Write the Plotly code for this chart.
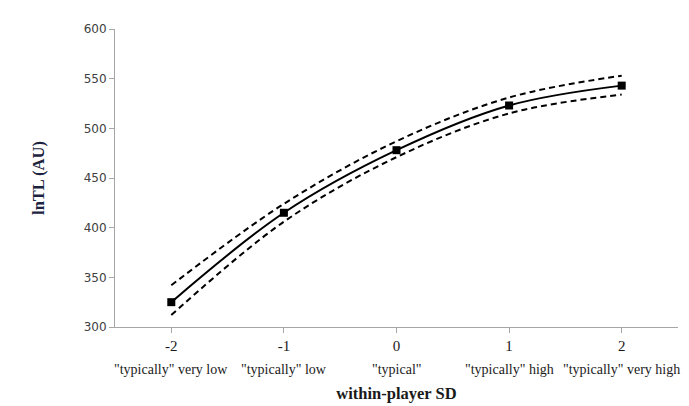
import plotly.graph_objects as go

sd_levels = [-2, -1, 0, 1, 2]
category_labels = ['"typically" very low', '"typically" low', '"typical"',
                   '"typically" high', '"typically" very high']
lntl_mean = [325, 415, 478, 523, 543]
lntl_upper = [342, 424, 487, 531, 553]
lntl_lower = [312, 406, 471, 515, 534]
y_ticks = [300, 350, 400, 450, 500, 550, 600]

serif = "Liberation Serif, Times New Roman, serif"
sans = "DejaVu Sans, Verdana, sans-serif"

fig = go.Figure()
for vals in (lntl_upper, lntl_lower):
    fig.add_trace(go.Scatter(x=sd_levels, y=vals, mode="lines",
                             line=dict(color="black", width=2, dash="6px,4px", shape="spline"),
                             showlegend=False, hoverinfo="skip"))
fig.add_trace(go.Scatter(x=sd_levels, y=lntl_mean, mode="lines+markers",
                         line=dict(color="black", width=2, shape="spline"),
                         marker=dict(symbol="square", size=8, color="black"),
                         showlegend=False))

for xv, lab in zip(sd_levels, category_labels):
    fig.add_annotation(x=xv, xref="x", y=-0.141, yref="paper", text=lab,
                       showarrow=False, yanchor="middle",
                       font=dict(family=serif, size=14, color="#1a1a1a"))

fig.update_layout(
    width=681, height=398,
    margin=dict(l=107, r=11, t=21, b=79, autoexpand=False),
    paper_bgcolor="white", plot_bgcolor="white",
    xaxis=dict(range=[-2.5, 2.5], tickvals=sd_levels, ticktext=[str(v) for v in sd_levels],
               automargin=False,
               showgrid=False, zeroline=False, showline=True, linecolor="#a6a6a6", linewidth=1,
               ticks="outside", ticklen=5, tickcolor="#a6a6a6",
               tickfont=dict(family=serif, size=15, color="#1a1a1a"),
               title=dict(text="<b>within-player SD</b>", standoff=34,
                          font=dict(family=serif, size=16.5, color="#1a1a1a"))),
    yaxis=dict(range=[300, 600], tickvals=y_ticks, automargin=False,
               showgrid=False, zeroline=False, showline=True, linecolor="#a6a6a6", linewidth=1,
               ticks="outside", ticklen=5, tickcolor="#a6a6a6",
               tickfont=dict(family=sans, size=12, color="#404040"),
               title=dict(text="<b>lnTL (AU)</b>", standoff=34,
                          font=dict(family=serif, size=16.5, color="#1c2340"))),
)

fig.write_html("out.html")
